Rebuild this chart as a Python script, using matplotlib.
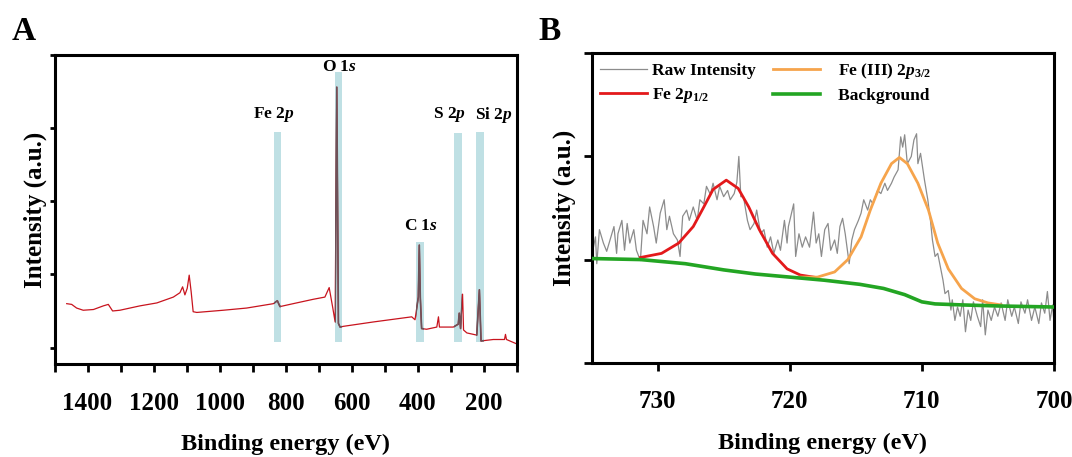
import numpy as np
import matplotlib
matplotlib.use('Agg')
import matplotlib.pyplot as plt

plt.rcParams['font.family'] = ['Liberation Serif', 'DejaVu Serif']
plt.rcParams['font.weight'] = 'bold'
plt.rcParams['mathtext.fontset'] = 'custom'
plt.rcParams['mathtext.rm'] = 'Liberation Serif:bold'
plt.rcParams['mathtext.it'] = 'Liberation Serif:italic:bold'
plt.rcParams['mathtext.bf'] = 'Liberation Serif:bold'

# --- panel A : survey spectrum ---
surv_be = [1463, 1448, 1433, 1413, 1382, 1352, 1337, 1324, 1302, 1241,
           1190, 1140, 1120, 1112, 1105, 1098, 1092, 1086, 1080, 1069,
           989, 918, 837, 825, 817, 777, 716, 681, 668, 657,
           650, 645, 640, 635, 625, 534, 418, 408, 398, 395,
           392, 388, 373, 342, 337, 334, 292, 277, 274, 270,
           264, 261, 251, 221, 213, 208, 171, 137, 134, 131, 100]
surv_int = [0.60, 0.59, 0.54, 0.51, 0.52, 0.57, 0.59, 0.50, 0.51, 0.57,
            0.61, 0.69, 0.75, 0.83, 0.72, 0.81, 0.99, 0.76, 0.49, 0.48,
            0.51, 0.54, 0.60, 0.64, 0.56, 0.60, 0.66, 0.69, 0.82, 0.54,
            0.35, 3.56, 0.33, 0.28, 0.29, 0.35, 0.42, 0.38, 0.69, 1.40,
            0.69, 0.26, 0.25, 0.28, 0.42, 0.28, 0.28, 0.32, 0.47, 0.26,
            0.73, 0.24, 0.20, 0.17, 0.79, 0.09, 0.11, 0.11, 0.18, 0.11, 0.05]

band_names = ['Fe 2$p$', 'O 1$s$', 'C 1$s$', 'S 2$p$', 'Si 2$p$']
band_center = [825, 640, 393, 278, 211]
band_width = [20, 20, 24, 23, 24]
band_top = [2.95, 3.77, 1.44, 2.93, 2.95]
band_bottom = 0.08
label_x = [835, 636, 390, 303, 169]
label_y = [3.18, 3.84, 1.66, 3.18, 3.18]

# --- panel B : Fe 2p high resolution ---
raw_be = [734.9, 734.7, 734.6, 734.4, 734.1, 733.85, 733.6, 733.3, 733.1, 733.0,
          732.7, 732.5, 732.3, 732.1, 731.8, 731.6, 731.3, 731.1, 730.8, 730.6,
          730.3, 730.1, 729.8, 729.5, 729.3, 729.1, 728.8, 728.5, 728.3, 728.1,
          727.8, 727.6, 727.3, 727.0, 726.8, 726.5, 726.3, 726.0, 725.8, 725.5,
          725.3, 725.0, 724.7, 724.5, 724.2, 724.0, 723.85, 723.7, 723.5, 723.2,
          723.0, 722.7, 722.5, 722.2, 721.95, 721.7, 721.45, 721.2, 720.9,
          720.7, 720.4, 720.2, 720.1, 719.7, 719.55, 719.3, 719.05, 718.8, 718.5,
          718.2, 718.0, 717.8, 717.6, 717.35, 717.1, 716.9, 716.6, 716.4, 716.2,
          716.0, 715.8, 715.5, 715.3, 715.1, 714.8, 714.6, 714.4, 714.1, 713.9,
          713.7, 713.35, 713.1, 712.8, 712.6, 712.3, 712.1, 711.8, 711.6, 711.45,
          711.3, 711.1, 710.8, 710.6, 710.4, 710.3, 710.1, 709.8, 709.55, 709.35,
          709.2, 709.0, 708.8, 708.6, 708.4, 708.25, 708.0, 707.8, 707.7, 707.5,
          707.3, 707.1, 706.9, 706.7, 706.5, 706.3, 706.1, 705.8, 705.55, 705.4,
          705.2, 705.0, 704.75, 704.5, 704.25, 704.0, 703.7, 703.5, 703.2, 703.0,
          702.7, 702.5, 702.2, 702.0, 701.7, 701.45, 701.15, 700.95, 700.7, 700.5,
          700.3, 700.1, 700.0]
raw_int = [1.09, 1.22, 0.96, 1.29, 1.16, 1.08, 1.19, 1.32, 1.06, 1.25,
           1.38, 1.09, 1.35, 1.16, 1.29, 1.09, 0.99, 1.38, 1.25, 1.51,
           1.32, 1.16, 1.45, 1.58, 1.29, 1.42, 1.25, 1.19, 1.03, 1.42,
           1.48, 1.38, 1.51, 1.38, 1.58, 1.54, 1.71, 1.63, 1.74, 1.58,
           1.71, 1.61, 1.67, 1.58, 1.64, 1.75, 2.00, 1.61, 1.61, 1.38,
           1.29, 1.35, 1.48, 1.25, 1.29, 1.12, 1.22, 1.06, 1.19,
           1.09, 1.38, 1.16, 1.32, 1.54, 1.03, 1.25, 1.12, 1.22, 1.12,
           1.46, 1.16, 1.25, 1.03, 1.29, 1.35, 1.09, 1.19, 1.06, 1.32,
           1.40, 1.25, 0.96, 1.19, 1.29, 1.38, 1.45, 1.58, 1.48, 1.58,
           1.54, 1.67, 1.64, 1.74, 1.67, 1.74, 1.80, 1.87, 2.19, 2.09,
           2.21, 1.93, 2.00, 2.16, 2.22, 1.93, 2.03, 1.77, 1.58, 1.38,
           1.19, 1.03, 1.06, 0.93, 0.80, 0.67, 0.70, 0.51, 0.61, 0.41,
           0.54, 0.45, 0.61, 0.30, 0.51, 0.41, 0.59, 0.45, 0.35, 0.61,
           0.27, 0.51, 0.41, 0.54, 0.45, 0.58, 0.41, 0.61, 0.45, 0.54,
           0.38, 0.59, 0.48, 0.61, 0.41, 0.54, 0.38, 0.58, 0.48, 0.69,
           0.41, 0.56, 0.38]

fe12_be = [731.3, 729.7, 728.4, 727.3, 726.5, 725.8, 724.8, 723.9, 723.1, 722.3,
           721.3, 720.2, 719.2, 718.2]
fe12_int = [1.02, 1.06, 1.16, 1.32, 1.51, 1.68, 1.77, 1.69, 1.51, 1.29,
            1.06, 0.91, 0.85, 0.83]

fe32_be = [719.2, 717.9, 716.6, 715.6, 714.6, 713.9, 713.1, 712.3, 711.7, 711.1,
           710.3, 709.5, 708.8, 708.0, 707.0, 706.0, 705.0, 704.0]
fe32_int = [0.83, 0.83, 0.88, 1.00, 1.22, 1.48, 1.74, 1.93, 1.99, 1.93,
            1.74, 1.48, 1.16, 0.91, 0.72, 0.62, 0.58, 0.56]

bg_be = [735, 731.3, 727.9, 725.0, 722.6, 720.0, 717.4, 714.7, 712.9, 711.3,
         710.0, 709.0, 706.9, 704.2, 700.0]
bg_int = [1.01, 1.00, 0.96, 0.90, 0.86, 0.83, 0.80, 0.76, 0.72, 0.66,
          0.59, 0.57, 0.56, 0.55, 0.54]

W, H = 1072, 457
fig = plt.figure(figsize=(W / 100, H / 100), dpi=100)
axA = fig.add_axes([54.5 / W, 1 - 364 / H, 462.2 / W, 309 / H])
axB = fig.add_axes([591.5 / W, 1 - 362.7 / H, 462.5 / W, 309.4 / H])

# panel A
axA.plot(surv_be, surv_int, color='#c8141e', lw=0.9, zorder=2)
bars = axA.bar(band_center, [t - band_bottom for t in band_top], width=band_width,
               bottom=band_bottom, color='#bfe0e4', zorder=1)
for b in bars:
    ln, = axA.plot(surv_be, surv_int, color='#6e5158', lw=1.2, zorder=3)
    ln.set_clip_path(b)
for name, lx, ly in zip(band_names, label_x, label_y):
    axA.text(lx, ly, name, ha='center', va='center', fontsize=12.5, fontweight='bold')

axA.set_xlim(1500, 100)
axA.set_ylim(-0.225, 4.0)
xt = list(range(1500, 99, -100))
axA.set_xticks(xt)
axA.set_xticklabels([str(v) if v % 200 == 0 and 200 <= v <= 1400 else '' for v in xt])
axA.set_yticks([0, 1, 2, 3, 4])
axA.set_yticklabels([])
axA.tick_params(axis='x', length=6, width=2, labelsize=18, pad=14)
axA.tick_params(axis='y', length=3.5, width=2)
axA.set_xlabel('Binding energy (eV)', fontsize=17.5, fontweight='bold', labelpad=14)
axA.set_ylabel('Intensity (a.u.)', fontsize=18, fontweight='bold', labelpad=-1.5)

# panel B
axB.plot(raw_be, raw_int, color='#8c8c8c', lw=0.9, label='Raw Intensity', zorder=1)
axB.plot(fe12_be, fe12_int, color='#e3191b', lw=2, label='Fe 2$p_{1/2}$', zorder=2)
axB.plot(fe32_be, fe32_int, color='#f6a44c', lw=2, label='   Fe (III) 2$p_{3/2}$', zorder=2)
axB.plot(bg_be, bg_int, color='#23a523', lw=2.6, label='   Background', zorder=3)
axB.set_xlim(735, 700)
axB.set_ylim(0, 3)
axB.set_xticks([730, 720, 710, 700])
axB.set_yticks([0, 1, 2, 3])
axB.set_yticklabels([])
axB.tick_params(axis='both', length=6, width=2, labelsize=18, pad=14)
axB.set_xlabel('Binding energy (eV)', fontsize=17.5, fontweight='bold', labelpad=14)
axB.set_ylabel('Intensity (a.u.)', fontsize=18, fontweight='bold', labelpad=-8.5)
axB.legend(loc='upper left', bbox_to_anchor=(0.018, 0.975), ncol=2, frameon=False,
           fontsize=12.5, handlelength=2.7, handletextpad=0.3, columnspacing=1.0,
           labelspacing=0.42, borderpad=0, borderaxespad=0)

for ax in (axA, axB):
    for s in ax.spines.values():
        s.set_linewidth(2.2)

fig.text(24 / W, 1 - 32 / H, 'A', fontsize=24, fontweight='bold', ha='center', va='center')
fig.text(550 / W, 1 - 32 / H, 'B', fontsize=24, fontweight='bold', ha='center', va='center')

fig.savefig('out.png', dpi=100)
